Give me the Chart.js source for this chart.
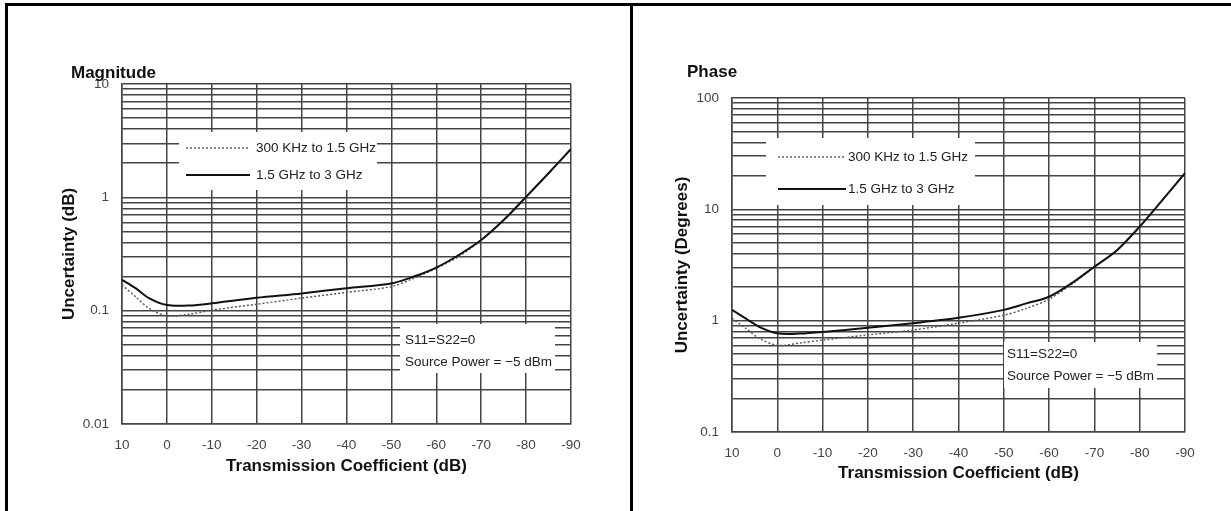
<!DOCTYPE html>
<html lang="en">
<head>
<meta charset="UTF-8">
<title>Transmission Uncertainty</title>
<script src="https://cdn.jsdelivr.net/npm/chart.js"></script>
<style>
  html, body { margin: 0; padding: 0; background: #fff; }
  body { width: 1231px; height: 511px; position: relative; overflow: hidden; }
  canvas { position: absolute; top: 0; }
  #magChart { left: 0; }
  #phaseChart { left: 633px; }
  .frame { position: absolute; background: #000; }
</style>
</head>
<body>
<canvas id="magChart" width="630" height="511"></canvas>
<canvas id="phaseChart" width="598" height="511"></canvas>
<!-- table frame -->
<div class="frame" style="left:5px; top:3px; width:1226px; height:3px"></div>
<div class="frame" style="left:5px; top:3px; width:3px; height:508px"></div>
<div class="frame" style="left:630px; top:3px; width:3px; height:508px"></div>

<script>
// Transmission coefficient (dB)
const xValues   = [10, 7, 4, 0, -5, -10, -20, -30, -40, -50, -55, -60, -65, -70, -75, -80, -85, -90];
// Magnitude uncertainty (dB)
const magLow    = [0.169, 0.133, 0.105, 0.090, 0.093, 0.101, 0.114, 0.129, 0.145, 0.163, 0.193, 0.237, 0.30, 0.42, 0.63, 1.01, 1.63, 2.67];
const magHigh   = [0.187, 0.158, 0.129, 0.112, 0.111, 0.116, 0.130, 0.142, 0.158, 0.174, 0.200, 0.240, 0.31, 0.42, 0.63, 1.01, 1.63, 2.67];
// Phase uncertainty (degrees)
const phaseLow  = [1.05, 0.855, 0.695, 0.60, 0.63, 0.67, 0.745, 0.825, 0.95, 1.12, 1.29, 1.56, 2.12, 3.05, 4.3, 7.0, 12.1, 21.1];
const phaseHigh = [1.25, 1.05, 0.88, 0.77, 0.765, 0.79, 0.865, 0.95, 1.06, 1.25, 1.43, 1.64, 2.17, 3.05, 4.3, 7.0, 12.1, 21.1];

const magMajor   = [0.01, 0.1, 1, 10];
const phaseMajor = [0.1, 1, 10, 100];
const seriesLabels = ['300 KHz to 1.5 GHz', '1.5 GHz to 3 GHz'];
const noteLines = ['S11=S22=0', 'Source Power = \u22125 dBm'];

const FONT = '"Liberation Sans", Arial, sans-serif';
const GRID = '#444';
const TEXT = '#222';

function points(ys) {
    return xValues.map((x, i) => ({ x, y: ys[i] }));
}

function datasets(low, high) {
    return [
        { label: seriesLabels[1], data: points(high), borderColor: '#111', borderWidth: 2 },
        { label: seriesLabels[0], data: points(low), borderColor: '#555', borderWidth: 1.4, borderDash: [2, 2] }
    ].map(d => Object.assign(d, { pointRadius: 0, fill: false, tension: 0.3 }));
}

// keep only 1..9 x 10^n grid lines
function wholeSignificand(v) {
    const m = v / Math.pow(10, Math.floor(Math.log10(v) + 1e-9));
    return Math.abs(m - Math.round(m)) < 1e-6;
}

// white legend / note boxes, drawn over the grid, plus the panel title
function overlayPlugin(cfg) {
    return {
        id: 'overlay',
        beforeDatasetsDraw(chart) {
            const { ctx, chartArea: a } = chart;
            ctx.save();
            ctx.fillStyle = '#fff';
            cfg.boxes.forEach(b => ctx.fillRect(a.left + b[0], a.top + b[1], b[2] - b[0], b[3] - b[1]));

            ctx.font = '13.5px ' + FONT;
            ctx.fillStyle = TEXT;
            ctx.textBaseline = 'middle';
            // legend: dotted first, then solid
            const order = [1, 0];
            order.forEach((di, row) => {
                const ds = chart.data.datasets[di];
                const y = a.top + cfg.legend.rows[row];
                ctx.save();
                ctx.strokeStyle = ds.borderColor;
                ctx.lineWidth = ds.borderWidth;
                ctx.setLineDash(ds.borderDash || []);
                ctx.beginPath();
                ctx.moveTo(a.left + cfg.legend.x0, y);
                ctx.lineTo(a.left + cfg.legend.x1, y);
                ctx.stroke();
                ctx.restore();
                ctx.fillText(ds.label, a.left + cfg.legend.tx, y);
            });
            noteLines.forEach((t, i) => {
                ctx.fillText(t, a.left + cfg.note.x, a.top + cfg.note.rows[i]);
            });
            ctx.restore();
        },
        afterDraw(chart) {
            const { ctx, chartArea: a } = chart;
            ctx.save();
            ctx.font = 'bold 17px ' + FONT;
            ctx.fillStyle = '#111';
            ctx.textBaseline = 'alphabetic';
            ctx.fillText(cfg.title, a.left + cfg.titlePos[0], a.top + cfg.titlePos[1]);
            ctx.restore();
        }
    };
}

function makeChart(id, low, high, yMin, yMax, majors, yTitle, pad, yWidth, cfg) {
    return new Chart(document.getElementById(id), {
        type: 'line',
        data: { datasets: datasets(low, high) },
        options: {
            responsive: false,
            animation: false,
            devicePixelRatio: 1,
            layout: { padding: pad },
            plugins: { legend: { display: false }, tooltip: { enabled: false } },
            scales: {
                x: {
                    type: 'linear',
                    min: -90,
                    max: 10,
                    reverse: true,
                    afterFit: s => { s.height = 60; },
                    grid: { color: GRID, lineWidth: 1.5, drawTicks: false },
                    border: { color: GRID, width: 1.5 },
                    ticks: {
                        stepSize: 10,
                        autoSkip: false,
                        maxRotation: 0,
                        padding: 13,
                        color: '#444',
                        font: { family: FONT, size: 13.5 }
                    },
                    title: {
                        display: true,
                        text: 'Transmission Coefficient (dB)',
                        color: '#111',
                        font: { family: FONT, size: 17, weight: 'bold' },
                        padding: { top: 0, bottom: cfg.xTitlePad }
                    }
                },
                y: {
                    type: 'logarithmic',
                    min: yMin,
                    max: yMax,
                    afterBuildTicks: s => { s.ticks = s.ticks.filter(t => wholeSignificand(t.value)); },
                    afterFit: s => { s.width = yWidth; },
                    grid: { color: GRID, lineWidth: 1.5, drawTicks: false },
                    border: { color: GRID, width: 1.5 },
                    ticks: {
                        autoSkip: false,
                        padding: 13,
                        color: '#444',
                        font: { family: FONT, size: 13.5 },
                        callback: v => {
                            const m = majors.find(k => Math.abs(v / k - 1) < 1e-6);
                            return m !== undefined ? String(m) : '';
                        }
                    },
                    title: {
                        display: true,
                        text: yTitle,
                        color: '#111',
                        font: { family: FONT, size: 17, weight: 'bold' },
                        padding: { top: 8.8, bottom: 0 }
                    }
                }
            }
        },
        plugins: [overlayPlugin(cfg)]
    });
}

makeChart('magChart', magLow, magHigh, 0.01, 10, magMajor, 'Uncertainty (dB)',
    { left: 50, right: 59, top: 84, bottom: 27 }, 72,
    {
        title: 'Magnitude',
        titlePos: [-51, -6],
        xTitlePad: 7.8,
        boxes: [[57, 48, 255, 106], [278, 240, 433, 289]],
        legend: { x0: 64, x1: 128, tx: 134, rows: [64, 91] },
        note: { x: 283, rows: [256, 278] }
    });

makeChart('phaseChart', phaseLow, phaseHigh, 0.1, 100, phaseMajor, 'Uncertainty (Degrees)',
    { left: 30, right: 46, top: 98, bottom: 19 }, 69,
    {
        title: 'Phase',
        titlePos: [-45, -21],
        xTitlePad: 8.8,
        boxes: [[34, 40, 243, 107], [272, 244, 425, 290]],
        legend: { x0: 46, x1: 114, tx: 116, rows: [59, 91] },
        note: { x: 275, rows: [256, 278] }
    });
</script>
</body>
</html>
